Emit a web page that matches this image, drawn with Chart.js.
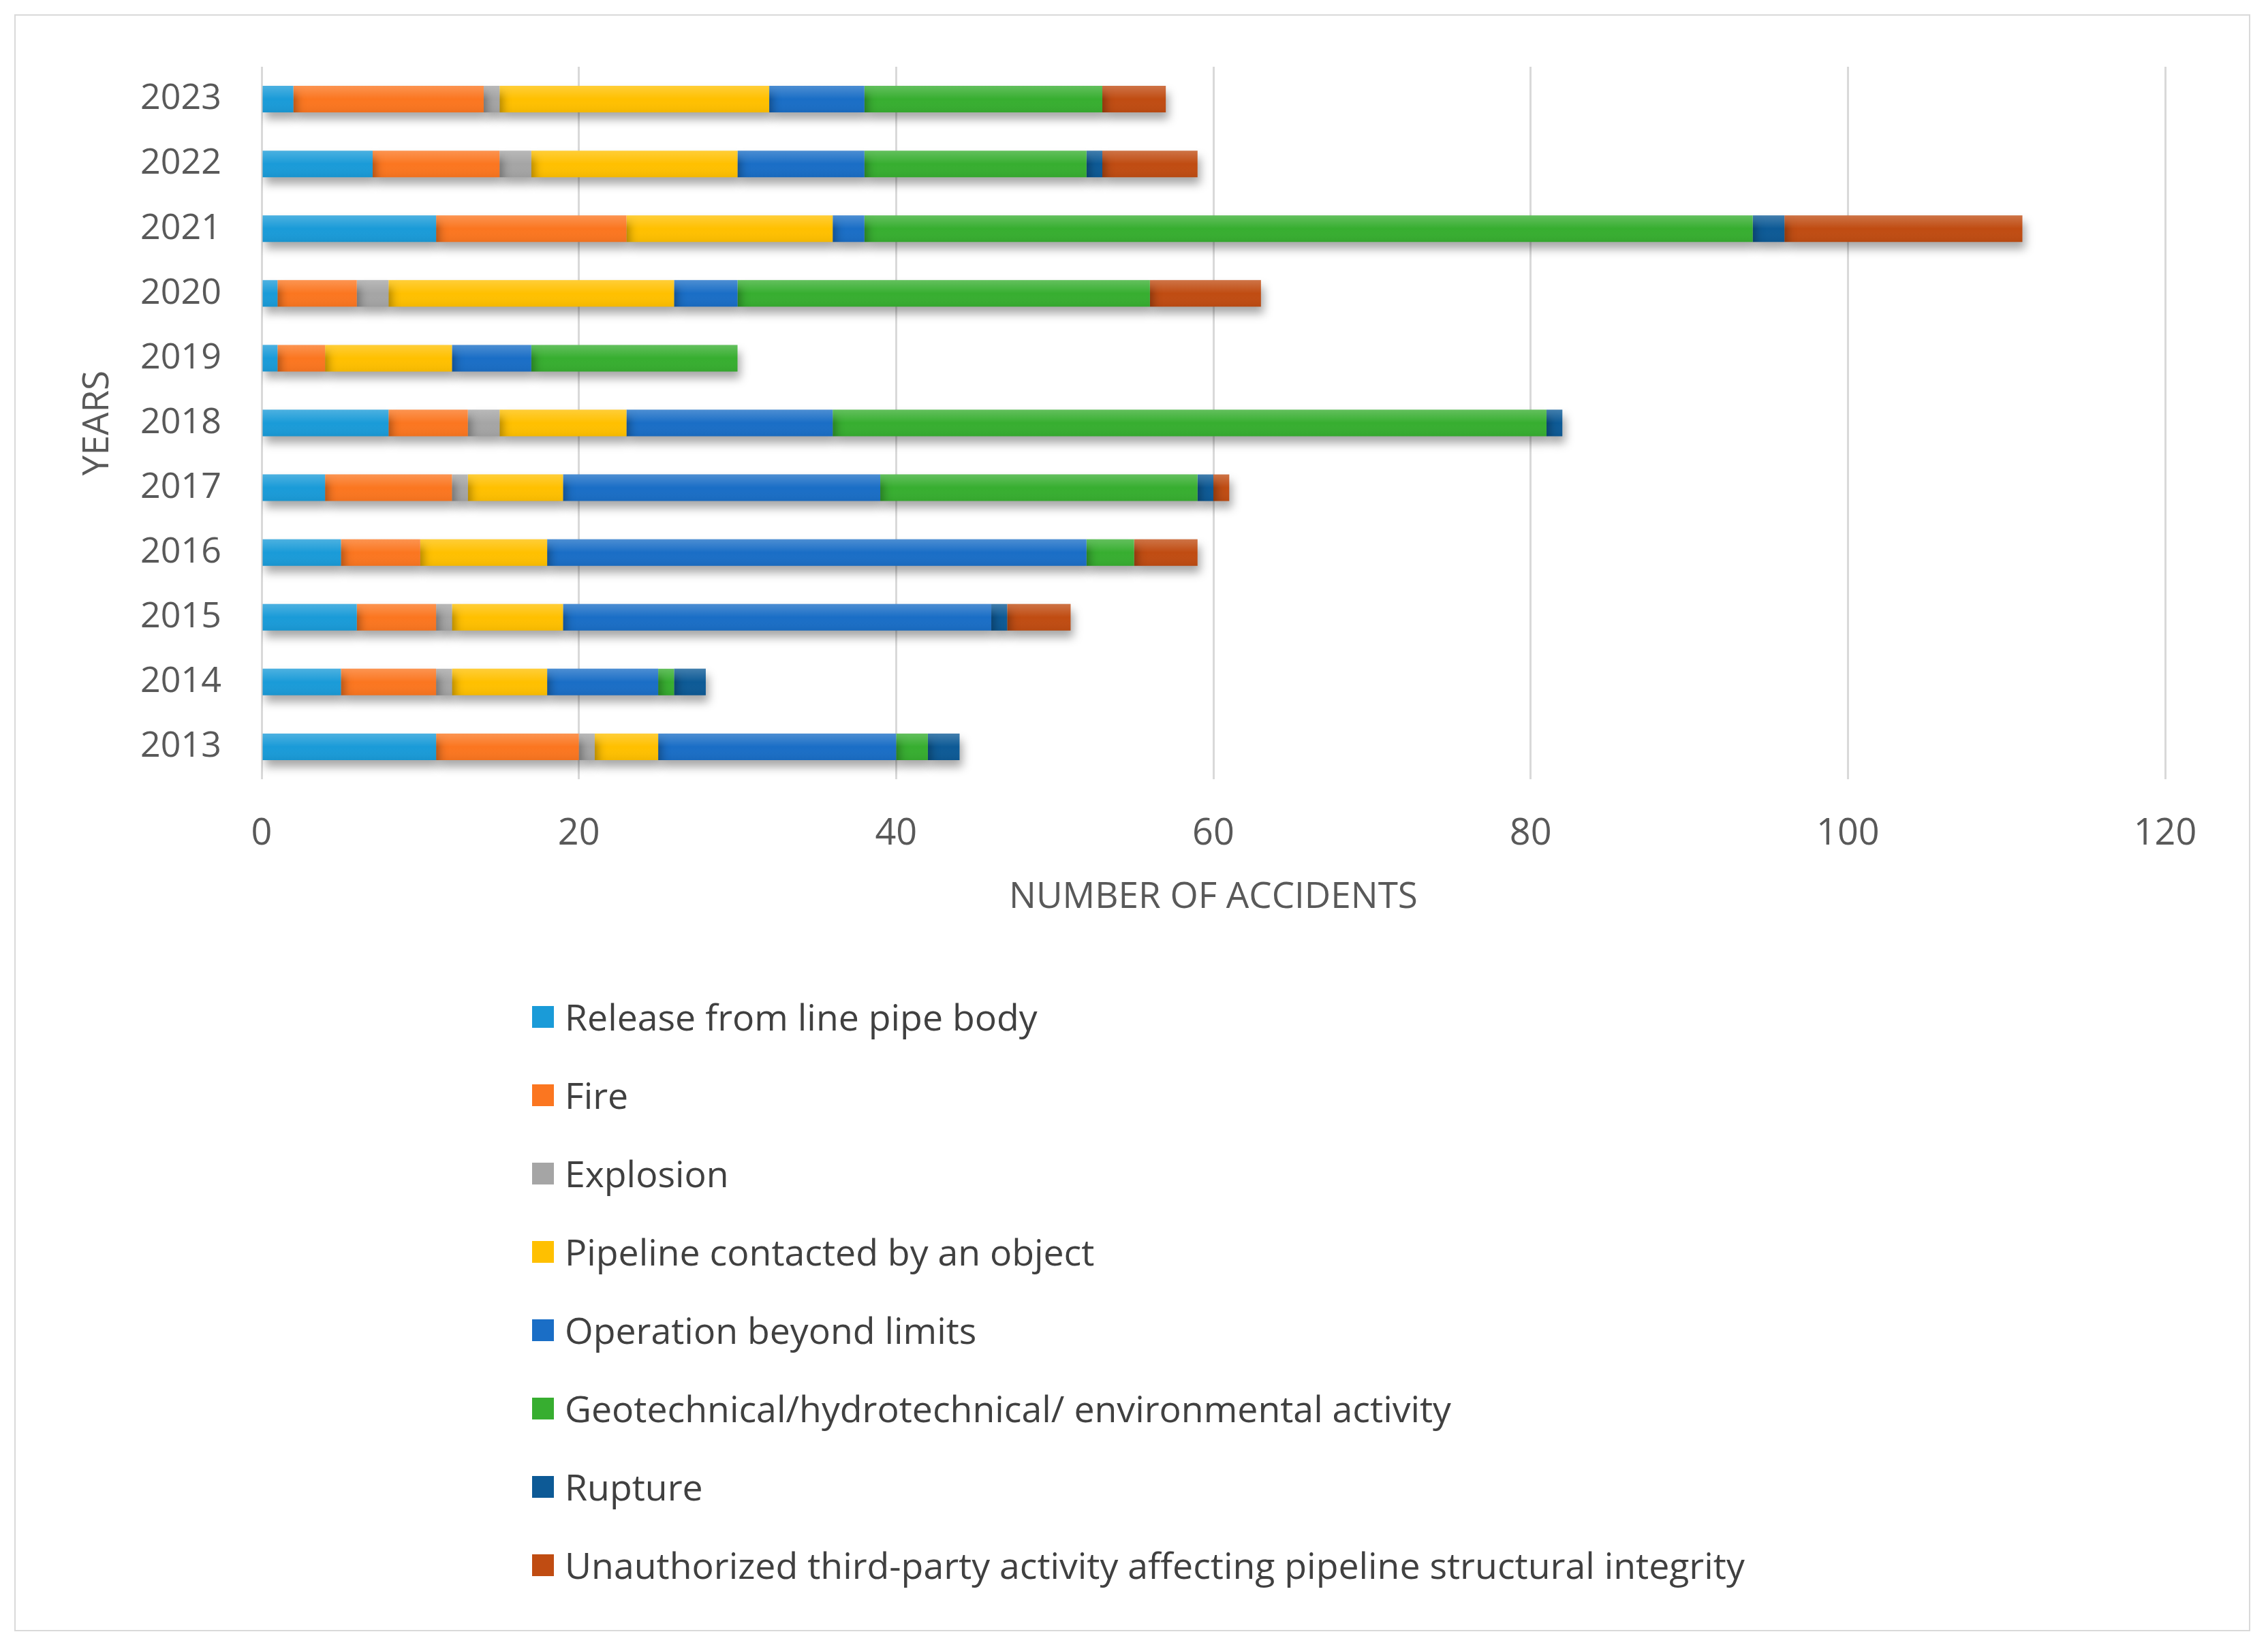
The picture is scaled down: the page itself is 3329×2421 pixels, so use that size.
<!DOCTYPE html>
<html>
<head>
<meta charset="utf-8">
<script src="https://cdn.jsdelivr.net/npm/chart.js@4"></script>
<style>
  html, body { margin: 0; padding: 0; background: #fff; }
  #frame { position: absolute; left: 21px; top: 21px; width: 3278px; height: 2370px; border: 2px solid #d9d9d9; }
  #chart { position: absolute; left: 0; top: 0; }
  #legend { position: absolute; left: 781px; top: 1435px; font-family: "Open Sans", sans-serif; font-size: 53.6px; color: #404040; }
  .item { height: 115px; display: flex; align-items: center; }
  .box { width: 32px; height: 32px; margin-right: 16px; }
</style>
</head>
<body>
<div id="frame"></div>
<canvas id="chart" width="3329" height="1400"></canvas>
<div id="legend"></div>
<script>
var years = ['2013', '2014', '2015', '2016', '2017', '2018', '2019', '2020', '2021', '2022', '2023'];

var release = [11, 5, 6, 5, 4, 8, 1, 1, 11, 7, 2];
var fire = [9, 6, 5, 5, 8, 5, 3, 5, 12, 8, 12];
var explosion = [1, 1, 1, 0, 1, 2, 0, 2, 0, 2, 1];
var contacted = [4, 6, 7, 8, 6, 8, 8, 18, 13, 13, 17];
var operation = [15, 7, 27, 34, 20, 13, 5, 4, 2, 8, 6];
var geotechnical = [2, 1, 0, 3, 20, 45, 13, 26, 56, 14, 15];
var rupture = [2, 2, 1, 0, 1, 1, 0, 0, 2, 1, 0];
var unauthorized = [0, 0, 4, 4, 1, 0, 0, 7, 15, 6, 4];

var xTicks = [0, 20, 40, 60, 80, 100, 120];

var series = [
    ['Release from line pipe body', release, '#1a9bd8'],
    ['Fire', fire, '#fb7620'],
    ['Explosion', explosion, '#a5a5a5'],
    ['Pipeline contacted by an object', contacted, '#ffc000'],
    ['Operation beyond limits', operation, '#1a6ec6'],
    ['Geotechnical/hydrotechnical/ environmental activity', geotechnical, '#37ae30'],
    ['Rupture', rupture, '#0d5a96'],
    ['Unauthorized third-party activity affecting pipeline structural integrity', unauthorized, '#c04c12']
];

Chart.defaults.font.family = '"Open Sans", sans-serif';
Chart.defaults.color = '#595959';

// soft drop shadow under the bars, plus a light sheen on their top edge
var shadow = {
    id: 'shadow',
    beforeDatasetsDraw: function(chart) {
        var ctx = chart.ctx;
        ctx.save();
        ctx.shadowColor = 'rgba(0, 0, 0, 0.35)';
        ctx.shadowBlur = 14;
        ctx.shadowOffsetX = 4;
        ctx.shadowOffsetY = 10;
    },
    afterDatasetsDraw: function(chart) {
        var ctx = chart.ctx;
        ctx.restore();
        chart.data.datasets.forEach(function(ds, i) {
            chart.getDatasetMeta(i).data.forEach(function(bar) {
                var w = bar.x - bar.base;
                if (w <= 0) return;
                var top = bar.y - bar.height / 2;
                var g = ctx.createLinearGradient(0, top, 0, top + bar.height);
                g.addColorStop(0, 'rgba(255,255,255,0.22)');
                g.addColorStop(0.5, 'rgba(255,255,255,0)');
                g.addColorStop(1, 'rgba(0,0,0,0.05)');
                ctx.fillStyle = g;
                ctx.fillRect(bar.base, top, w, bar.height);
            });
        });
    }
};

var chart = new Chart(document.getElementById('chart'), {
    type: 'bar',
    data: {
        labels: years,
        datasets: series.map(function(s) {
            return {
                label: s[0],
                data: s[1],
                backgroundColor: s[2],
                borderWidth: 0,
                categoryPercentage: 1,
                barPercentage: 0.41
            };
        })
    },
    options: {
        indexAxis: 'y',
        responsive: false,
        animation: false,
        layout: { padding: { left: 0, top: 98, right: 151, bottom: 0 } },
        plugins: {
            legend: { display: false },
            tooltip: { enabled: false }
        },
        scales: {
            x: {
                stacked: true,
                min: 0,
                max: 120,
                afterBuildTicks: function(scale) {
                    scale.ticks = xTicks.map(function(v) { return { value: v }; });
                },
                afterFit: function(scale) { scale.height = 256; },
                grid: { color: '#d9d9d9', lineWidth: 3, drawTicks: false },
                border: { display: false },
                ticks: { padding: 48, font: { size: 54 }, color: '#595959' },
                title: {
                    display: true,
                    text: 'NUMBER OF ACCIDENTS',
                    font: { size: 53 },
                    color: '#595959',
                    padding: { top: 0, bottom: 50 }
                }
            },
            y: {
                stacked: true,
                reverse: true,
                afterFit: function(scale) { scale.width = 384; },
                grid: { display: false, drawTicks: false },
                border: { display: false },
                ticks: { padding: 59, font: { size: 52 }, color: '#595959' },
                title: {
                    display: true,
                    text: 'YEARS',
                    font: { size: 53 },
                    color: '#595959',
                    padding: { top: 112, bottom: 0 }
                }
            }
        }
    },
    plugins: [shadow]
});

var legend = document.getElementById('legend');
chart.data.datasets.forEach(function(ds) {
    var item = document.createElement('div');
    item.className = 'item';
    var box = document.createElement('div');
    box.className = 'box';
    box.style.background = ds.backgroundColor;
    var txt = document.createElement('span');
    txt.textContent = ds.label;
    item.appendChild(box);
    item.appendChild(txt);
    legend.appendChild(item);
});
</script>
</body>
</html>
